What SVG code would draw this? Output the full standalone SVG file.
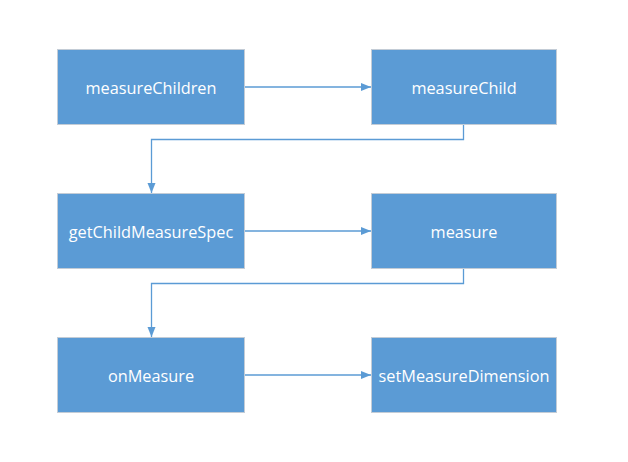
<svg xmlns="http://www.w3.org/2000/svg" width="628" height="462" viewBox="0 0 628 462">
<style>
.box{fill:#5B9BD5;stroke:#C3CCD6;stroke-width:1}
.lbl{font-family:"Open Sans","Liberation Sans",sans-serif;font-size:16.3px;fill:#FFFFFF;text-anchor:middle;dominant-baseline:central}
.edge{fill:none;stroke:#5B9BD5;stroke-width:1.3}
</style>
<defs>
<marker id="arr" viewBox="0 0 10 10" refX="10" refY="5" markerWidth="10" markerHeight="10" markerUnits="userSpaceOnUse" orient="auto">
<path d="M0,1 L10,5 L0,9 Z" fill="#5B9BD5"/>
</marker>
</defs>
<rect width="628" height="462" fill="#FFFFFF"/>
<g id="connectors">
<path class="edge" d="M245,87 H371" marker-end="url(#arr)"/>
<path class="edge" d="M463.5,125 V139.5 H151.5 V193" marker-end="url(#arr)"/>
<path class="edge" d="M245,231 H371" marker-end="url(#arr)"/>
<path class="edge" d="M463.5,269 V283.5 H151.5 V337" marker-end="url(#arr)"/>
<path class="edge" d="M245,375 H371" marker-end="url(#arr)"/>
</g>
<g id="measureChildren"><rect class="box" x="57.5" y="49.5" width="187" height="75"/><text class="lbl" x="151" y="87.5">measureChildren</text></g>
<g id="measureChild"><rect class="box" x="371.5" y="49.5" width="185" height="75"/><text class="lbl" x="464" y="87.5">measureChild</text></g>
<g id="getChildMeasureSpec"><rect class="box" x="57.5" y="193.5" width="187" height="75"/><text class="lbl" x="151" y="231.5">getChildMeasureSpec</text></g>
<g id="measure"><rect class="box" x="371.5" y="193.5" width="185" height="75"/><text class="lbl" x="464" y="231.5">measure</text></g>
<g id="onMeasure"><rect class="box" x="57.5" y="337.5" width="187" height="75"/><text class="lbl" x="151" y="375.5">onMeasure</text></g>
<g id="setMeasureDimension"><rect class="box" x="371.5" y="337.5" width="185" height="75"/><text class="lbl" x="464" y="375.5">setMeasureDimension</text></g>
</svg>
